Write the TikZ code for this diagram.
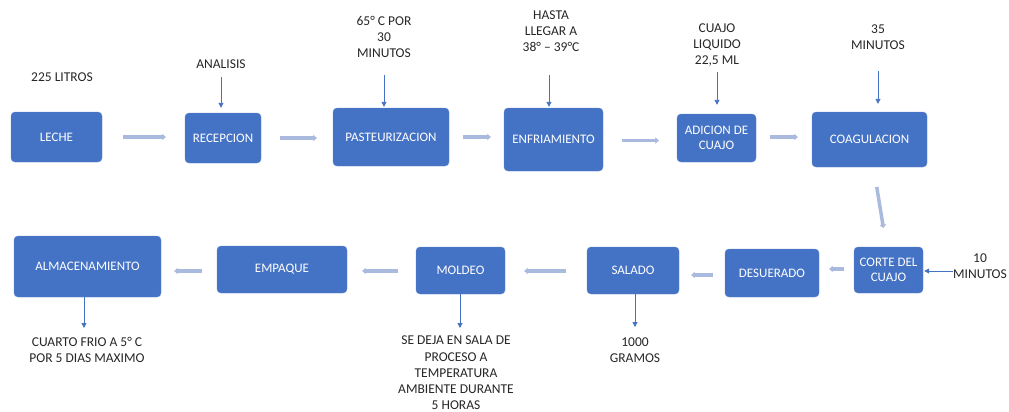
\documentclass[tikz,border=0pt]{standalone}
\usepackage{fontspec}
\setmainfont{Carlito}
\usetikzlibrary{arrows.meta}
\definecolor{boxblue}{HTML}{4472C4}
\definecolor{flowgrey}{HTML}{AABADF}
\begin{document}
\begin{tikzpicture}[x=1pt,y=-1pt,
  stepbox/.style={draw=boxblue!85!white, fill=boxblue, rounded corners=4pt, text=white,
    font=\fontsize{13}{15}\selectfont, align=center, inner sep=0pt},
  note/.style={font=\fontsize{13.5}{16.3}\selectfont, align=center, inner sep=0pt, text=black!85},
  flow/.style={draw=flowgrey, line width=3.5pt, -{Triangle[width=6.5pt,length=3.5pt]}},
  feed/.style={draw=boxblue, line width=0.9pt, -{Triangle[width=5pt,length=5pt]}}
]
\useasboundingbox (0,0) rectangle (1009,412);

% process steps, first row
\node[stepbox, minimum width=91pt, minimum height=50pt] (leche) at (56.5,137) {LECHE};
\node[stepbox, minimum width=76pt, minimum height=50pt] (recep) at (223,138) {RECEPCION};
\node[stepbox, minimum width=116pt, minimum height=58pt] (past) at (391,137) {PASTEURIZACION};
\node[stepbox, minimum width=99pt, minimum height=63pt] (enfr) at (553.5,139.5) {ENFRIAMIENTO};
\node[stepbox, minimum width=79pt, minimum height=48pt] (adic) at (716.5,138) {ADICION DE\\CUAJO};
\node[stepbox, minimum width=115pt, minimum height=55pt] (coag) at (869.5,139.5) {COAGULACION};

% process steps, second row
\node[stepbox, minimum width=69pt, minimum height=46pt] (corte) at (888.5,270) {CORTE DEL\\CUAJO};
\node[stepbox, minimum width=94pt, minimum height=48pt] (desu) at (772,273) {DESUERADO};
\node[stepbox, minimum width=92pt, minimum height=47pt] (sala) at (633,270.5) {SALADO};
\node[stepbox, minimum width=89pt, minimum height=47pt] (mold) at (460.5,270.5) {MOLDEO};
\node[stepbox, minimum width=130pt, minimum height=47pt] (empa) at (282,269.5) {EMPAQUE};
\node[stepbox, minimum width=147pt, minimum height=61pt] (alma) at (87.5,266.5) {ALMACENAMIENTO};

% main flow
\draw[flow, shorten <=21pt, shorten >=19pt] (leche.east) -- (leche.east -| recep.west);
\draw[flow, shorten <=19pt, shorten >=16pt] (recep.east) -- (recep.east -| past.west);
\draw[flow, shorten <=14pt, shorten >=13pt] (past.east) -- (past.east -| enfr.west);
\draw[flow, shorten <=19pt, shorten >=18pt] ([yshift=-1pt]enfr.east) -- ([yshift=-1pt]enfr.east -| adic.west);
\draw[flow, shorten <=14pt, shorten >=14pt] ([yshift=1pt]adic.east) -- ([yshift=1pt]adic.east -| coag.west);
\draw[flow, shorten <=20pt, shorten >=19pt] ([xshift=4pt]coag.south) -- ([xshift=-2pt]corte.north);
\draw[flow, shorten <=10pt, shorten >=10pt] ([yshift=1pt]corte.west) -- ([yshift=1pt]corte.west -| desu.east);
\draw[flow, shorten <=12pt, shorten >=12pt] ([yshift=-2pt]desu.west) -- ([yshift=-2pt]desu.west -| sala.east);
\draw[flow, shorten <=21pt, shorten >=19pt] ([yshift=-0.5pt]sala.west) -- ([yshift=-0.5pt]sala.west -| mold.east);
\draw[flow, shorten <=18pt, shorten >=15pt] ([yshift=-0.5pt]mold.west) -- ([yshift=-0.5pt]mold.west -| empa.east);
\draw[flow, shorten <=15pt, shorten >=13pt] ([yshift=-1.5pt]empa.west) -- ([yshift=-1.5pt]empa.west -| alma.east);

% notes
\node[note] (n225) at (62,77) {225 LITROS};
\node[note] (nanal) at (221,64) {ANALISIS};
\node[note] (npast) at (384,37) {65° C POR\\30\\MINUTOS};
\node[note] (nenfr) at (551,31) {HASTA\\LLEGAR A\\38° – 39°C};
\node[note] (nadic) at (717,45) {CUAJO\\LIQUIDO\\22,5 ML};
\node[note] (ncoag) at (878,37) {35\\MINUTOS};
\node[note] (ncort) at (980,266.5) {10\\MINUTOS};
\node[note] (nalma) at (87,350) {CUARTO FRIO A 5° C\\POR 5 DIAS MAXIMO};
\node[note] (nmold) at (456,373) {SE DEJA EN SALA DE\\PROCESO A\\TEMPERATURA\\AMBIENTE DURANTE\\5 HORAS};
\node[note] (nsala) at (635,350) {1000\\GRAMOS};

% feed arrows
\coordinate (fanal) at (221,77);
\coordinate (fpast) at (384,75);
\coordinate (fenfr) at (549,75);
\coordinate (fadic) at (717,72);
\coordinate (fcoag) at (878,71);
\coordinate (fcort) at (953,271);
\draw[feed, shorten >=5pt] (fanal) -- (fanal |- recep.north);
\draw[feed, shorten >=1pt] (fpast) -- (fpast |- past.north);
\draw[feed, shorten >=1pt] (fenfr) -- (fenfr |- enfr.north);
\draw[feed, shorten >=9pt] (fadic) -- (fadic |- adic.north);
\draw[feed, shorten >=8pt] (fcoag) -- (fcoag |- coag.north);
\draw[feed, shorten >=1pt] (fcort) -- (fcort -| corte.east);

% output arrows
\coordinate (oalma) at (84,328);
\coordinate (omold) at (460,328);
\coordinate (osala) at (635,327);
\draw[feed] (alma.south -| oalma) -- (oalma);
\draw[feed] (mold.south -| omold) -- (omold);
\draw[feed] (sala.south -| osala) -- (osala);
\end{tikzpicture}
\end{document}
